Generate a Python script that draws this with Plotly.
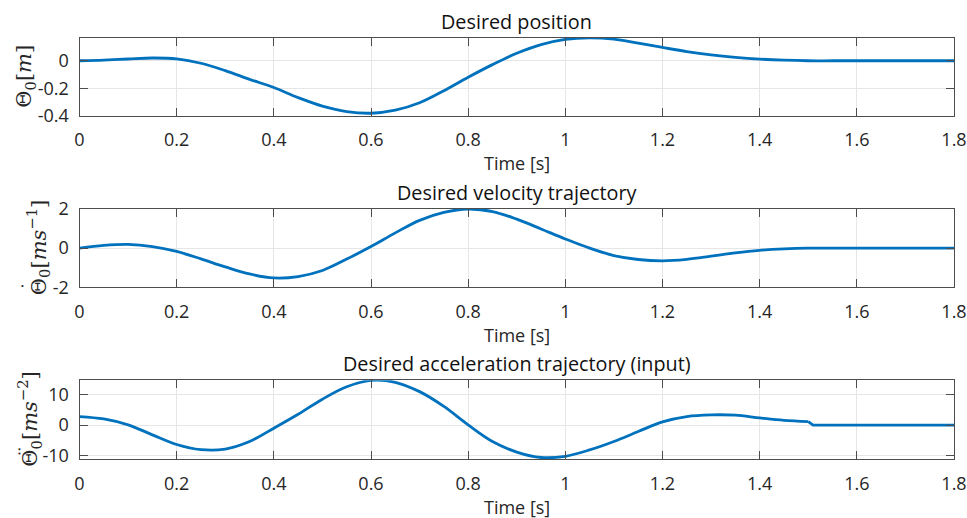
import plotly.graph_objects as go

# ---------------- data ----------------
t = [0.00, 0.05, 0.10, 0.15, 0.20, 0.25, 0.30, 0.35, 0.40, 0.45,
     0.50, 0.55, 0.60, 0.65, 0.70, 0.75, 0.80, 0.85, 0.90, 0.95,
     1.00, 1.05, 1.10, 1.15, 1.20, 1.25, 1.30, 1.35, 1.40, 1.45,
     1.50, 1.55, 1.60, 1.65, 1.70, 1.75, 1.80]

position = [0.000, 0.005, 0.013, 0.020, 0.014, -0.018, -0.072, -0.135, -0.195, -0.268,
            -0.330, -0.370, -0.382, -0.360, -0.306, -0.218, -0.120, -0.028, 0.055, 0.118,
            0.156, 0.167, 0.157, 0.128, 0.097, 0.067, 0.043, 0.025, 0.012, 0.004,
            0.000, 0.000, 0.000, 0.000, 0.000, 0.000, 0.000]

velocity = [0.00, 0.14, 0.19, 0.08, -0.17, -0.55, -0.96, -1.32, -1.52, -1.45,
            -1.14, -0.56, 0.08, 0.78, 1.42, 1.83, 2.00, 1.87, 1.48, 0.98,
            0.47, 0.00, -0.38, -0.58, -0.645, -0.57, -0.41, -0.24, -0.11, -0.035,
            0.00, 0.00, 0.00, 0.00, 0.00, 0.00, 0.00]

t_acc = t[:31]
acceleration = [2.85, 2.05, 0.10, -3.20, -6.40, -8.10, -7.90, -5.40, -1.00, 3.60,
                8.60, 12.70, 14.80, 14.20, 11.10, 6.20, 0.10, -5.40, -8.90, -10.70,
                -10.30, -8.20, -5.40, -2.10, 1.10, 2.85, 3.40, 3.30, 2.40, 1.60,
                1.20]
t_acc_tail = [1.50, 1.51, 1.80]
acceleration_tail = [1.20, 0.00, 0.00]

x_ticks = [0, 0.2, 0.4, 0.6, 0.8, 1.0, 1.2, 1.4, 1.6, 1.8]
x_ticktext = ["0", "0.2", "0.4", "0.6", "0.8", "1", "1.2", "1.4", "1.6", "1.8"]
y1_ticks = [-0.4, -0.2, 0]
y1_ticktext = ["-0.4", "-0.2", "0"]
y2_ticks = [-2, 0, 2]
y2_ticktext = ["-2", "0", "2"]
y3_ticks = [-10, 0, 10]
y3_ticktext = ["-10", "0", "10"]

titles = ["Desired position", "Desired velocity trajectory",
          "Desired acceleration trajectory (input)"]
x_label = "Time [s]"
y_labels = ["Θ<sub>0</sub>[<i>m</i>]",
            "Θ<sub>0</sub>[<i>ms</i><sup>−1</sup>]",
            "Θ<sub>0</sub>[<i>ms</i><sup>−2</sup>]"]
# dot accents over Θ (time-derivative marks)
accents = ["", "•", "••"]

# ---------------- styling / layout ----------------
W, H = 967, 518
LINE = "#0072BD"
AX = "#4d4d4d"
TXT = "#262626"
GRID = "#e6e6e6"
SANS = "Open Sans"
SERIF = "DejaVu Serif"

x_left, x_right = 79.5, 954.0
panels = [(37.7, 115.7), (209.0, 287.3), (380.3, 459.0)]  # top, bottom in px
y_ranges = [[-0.4, 0.168], [-2, 2], [-11.2, 14.85]]
y_tick_sets = [(y1_ticks, y1_ticktext), (y2_ticks, y2_ticktext), (y3_ticks, y3_ticktext)]
ylabel_x = [25, 38, 29]
accent_pos = [None, (23, 286), (19, 451.5)]

def py(v):
    return (H - v) / H

fig = go.Figure()
series = [(t, position), (t, velocity), (t_acc, acceleration)]
for i, (xs, ys) in enumerate(series):
    suf = "" if i == 0 else str(i + 1)
    fig.add_trace(go.Scatter(x=xs, y=ys, mode="lines",
                             line=dict(color=LINE, width=2.8, shape="spline", smoothing=1.0),
                             xaxis="x" + suf, yaxis="y" + suf, showlegend=False,
                             hoverinfo="skip"))
fig.add_trace(go.Scatter(x=t_acc_tail, y=acceleration_tail, mode="lines",
                         line=dict(color=LINE, width=2.8),
                         xaxis="x3", yaxis="y3", showlegend=False, hoverinfo="skip"))

layout = dict(width=W, height=H, margin=dict(l=0, r=0, t=0, b=0, autoexpand=False),
              paper_bgcolor="white", plot_bgcolor="white", showlegend=False,
              template="none")
annotations = []
xd = [x_left / W, x_right / W]
xc = (x_left + x_right) / 2 / W
for i, (top, bot) in enumerate(panels):
    suf = "" if i == 0 else str(i + 1)
    tv, tt = y_tick_sets[i]
    layout["xaxis" + suf] = dict(
        domain=xd, anchor="y" + suf, range=[0, 1.8], automargin=False,
        tickvals=x_ticks, ticktext=x_ticktext,
        ticks="inside", ticklen=8, tickcolor=AX, tickwidth=1,
        showline=True, linecolor=AX, linewidth=1, mirror="ticks",
        showgrid=True, gridcolor=GRID, gridwidth=1, zeroline=False,
        tickfont=dict(family=SANS, size=18, color=TXT), ticklabelstandoff=8,
        fixedrange=True)
    layout["yaxis" + suf] = dict(
        domain=[py(bot), py(top)], anchor="x" + suf, range=y_ranges[i], automargin=False,
        tickvals=tv, ticktext=tt,
        ticks="inside", ticklen=8, tickcolor=AX, tickwidth=1,
        showline=True, linecolor=AX, linewidth=1, mirror="ticks",
        showgrid=True, gridcolor=GRID, gridwidth=1, zeroline=False,
        tickfont=dict(family=SANS, size=18, color=TXT), ticklabelstandoff=6,
        fixedrange=True)
    annotations.append(dict(text=titles[i], x=xc, y=py(top - 16.5), xref="paper", yref="paper",
                            showarrow=False, xanchor="center", yanchor="middle",
                            font=dict(family=SANS, size=19.8, color="#111111")))
    annotations.append(dict(text=x_label, x=xc, y=py(bot + 47.5), xref="paper", yref="paper",
                            showarrow=False, xanchor="center", yanchor="middle",
                            font=dict(family=SANS, size=18, color=TXT)))
    annotations.append(dict(text=y_labels[i], x=ylabel_x[i] / W, y=py((top + bot) / 2),
                            xref="paper", yref="paper", textangle=-90,
                            showarrow=False, xanchor="center", yanchor="middle",
                            font=dict(family=SERIF, size=21, color=TXT)))
    if accents[i]:
        dx, dy = accent_pos[i]
        annotations.append(dict(text=accents[i], x=dx / W, y=py(dy), xref="paper", yref="paper",
                                showarrow=False, xanchor="center", yanchor="middle",
                                textangle=-90,
                                font=dict(family=SERIF, size=7, color=TXT)))
layout["annotations"] = annotations
fig.update_layout(**layout)
fig.write_html("out.html", config={"displayModeBar": False},
               post_script="document.body.style.margin='0';document.body.style.overflow='hidden';")
